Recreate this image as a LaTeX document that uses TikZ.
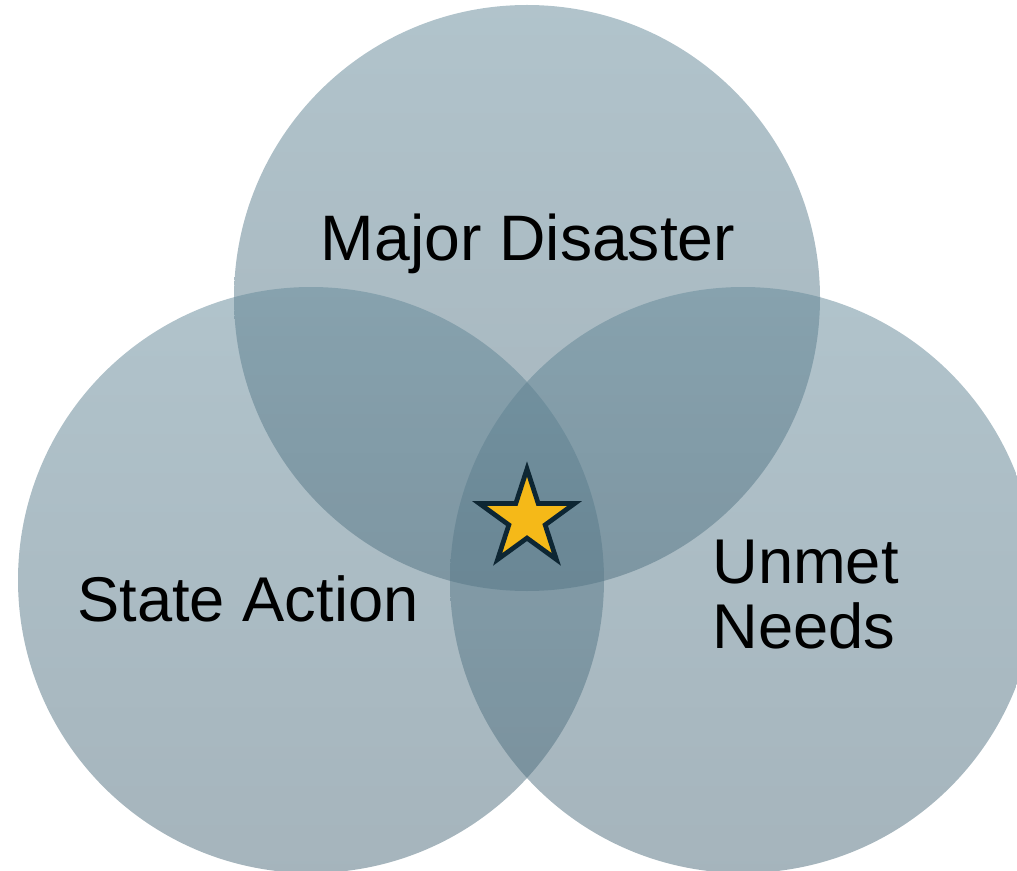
\documentclass[tikz,border=0pt]{standalone}
\usepackage{fontspec}
\setmainfont{Liberation Sans}
\usepackage{tikz}
\usetikzlibrary{shapes.geometric}

\definecolor{circletop}{RGB}{99,136,152}
\definecolor{circlebottom}{RGB}{76,106,122}
\definecolor{stargold}{RGB}{245,185,24}
\definecolor{starline}{RGB}{13,38,51}

\tikzset{
  setcircle/.style={top color=circletop, bottom color=circlebottom, fill opacity=0.5},
  setlabel/.style={inner sep=0pt, font=\fontsize{36}{37}\selectfont}
}

\begin{document}
\begin{tikzpicture}[x=0.02cm,y=0.02cm]
\useasboundingbox (0,0) rectangle (1017,870);
\clip (0,0) rectangle (1017,870);

% the three sets
\shade[setcircle] (527,572) circle (293);
\shade[setcircle] (311,290) circle (293);
\shade[setcircle] (743,290) circle (293);

% centre star
\node[star, star points=5, star point ratio=2.618, minimum size=2cm, inner sep=0pt,
      fill=stargold, draw=starline, line width=2.7pt] (star) at (527,351) {};

\node[setlabel, anchor=base] (disaster) at (528,609) {\fontsize{36.6}{37}\selectfont Major Disaster};
\node[setlabel, anchor=base] (state) at (248,249) {State Action};
\node[setlabel, anchor=north west, align=left] (needs) at (712,330) {Unmet\\Needs};
\end{tikzpicture}
\end{document}
